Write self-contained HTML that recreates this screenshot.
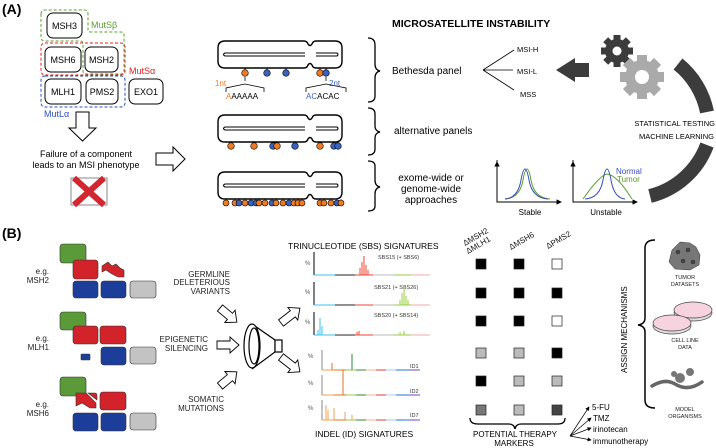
<!DOCTYPE html>
<html><head><meta charset="utf-8"><style>
html,body{margin:0;padding:0;background:#fff}
svg{display:block;font-family:"Liberation Sans",sans-serif}
</style></head><body>
<svg width="716" height="448" viewBox="0 0 716 448" xmlns="http://www.w3.org/2000/svg">
<defs>
<marker id="ah" markerWidth="6" markerHeight="6" refX="5" refY="3" orient="auto"><path d="M0,0 L6,3 L0,6z" fill="#000"/></marker>
<g id="chrom">
<path d="M225,0 H304 Q307,0 308,3 Q310,6 312,3 Q313,0 316,0 H335 Q342,0 342,7 V20 Q342,27 335,27 H316 Q313,27 312,24 Q310,21 308,24 Q307,27 304,27 H225 Q218,27 218,20 V7 Q218,0 225,0z" fill="#fff" stroke="#000" stroke-width="1.4"/>
<path d="M305,12 H225 Q222,13.5 225,15 H305 M316,12 H337 Q339,13.5 337,15 H316" fill="none" stroke="#000" stroke-width="1.1"/>
</g>
</defs>

<!-- (A) -->
<text x="2" y="14" font-size="14" font-weight="bold">(A)</text>
<g font-size="9" text-anchor="middle" fill="#000">
<rect x="47" y="13" width="35" height="25" rx="6" fill="#fff" stroke="#000"/><text x="64.5" y="29">MSH3</text>
<rect x="45" y="47" width="36" height="25" rx="6" fill="#fff" stroke="#000"/><text x="63" y="63">MSH6</text>
<rect x="85" y="47" width="33" height="25" rx="6" fill="#fff" stroke="#000"/><text x="101.5" y="63">MSH2</text>
<rect x="45" y="79" width="36" height="25" rx="6" fill="#fff" stroke="#000"/><text x="63" y="95">MLH1</text>
<rect x="86" y="79" width="32" height="25" rx="6" fill="#fff" stroke="#000"/><text x="102" y="95">PMS2</text>
<rect x="129" y="79" width="34" height="25" rx="6" fill="#fff" stroke="#000"/><text x="146" y="95">EXO1</text>
</g>
<path d="M41,14 Q41,10 45,10 H84 Q88,10 88,14 V30 Q88,32 91,32 H121 Q124,32 124,35 V71 Q124,74 121,74 H86 Q83,74 83,71 V44 Q83,41 80,41 H45 Q41,41 41,37z" fill="none" stroke="#5aa02c" stroke-width="1" stroke-dasharray="3,2"/>
<rect x="41" y="43" width="84" height="32" rx="4" fill="none" stroke="#e02020" stroke-width="1" stroke-dasharray="3,2"/>
<rect x="41" y="76" width="84" height="31" rx="4" fill="none" stroke="#2a4fc0" stroke-width="1" stroke-dasharray="3,2"/>
<text x="91" y="28" font-size="9" fill="#5aa02c">MutSβ</text>
<text x="129" y="74" font-size="9" fill="#e02020">MutSα</text>
<text x="44" y="117" font-size="9" fill="#2a4fc0">MutLα</text>
<path d="M76,112 H89 V128 H96 L82.5,141 L69,128 H76z" fill="#fff" stroke="#000" stroke-width="1"/>
<text x="86" y="157" font-size="9" text-anchor="middle">Failure of a component</text>
<text x="86" y="168" font-size="9" text-anchor="middle">leads to an MSI phenotype</text>
<path d="M156,153 H173 V147 L185,159 L173,171 V165 H156z" fill="#fff" stroke="#000" stroke-width="1"/>
<rect x="71" y="178" width="36" height="27" fill="none" stroke="#888" stroke-width="1"/>
<path d="M74,178 L104,205 M104,178 L74,205" stroke="#d22630" stroke-width="6"/>

<!-- chromosomes -->
<use href="#chrom" y="41"/>
<use href="#chrom" y="115"/>
<use href="#chrom" y="172"/>
<g stroke="#000" stroke-width="0.8">
<path d="M245,68 V73 M267,68 V73 M286,68 V73 M320,68 V73 M326,68 V73"/>
</g>
<g stroke="#000" stroke-width="0.6">
<circle cx="245" cy="73" r="3.3" fill="#f07b22"/><circle cx="267" cy="73" r="3.3" fill="#3a63c0"/><circle cx="286" cy="73" r="3.3" fill="#3a63c0"/><circle cx="320" cy="73" r="3.3" fill="#f07b22"/><circle cx="326" cy="73" r="3.3" fill="#3a63c0"/>
</g>
<path d="M245,77 V81 M226,92 V88 L245,84 L264,88 V92 M326,77 V81 M306,92 V88 L326,84 L346,88 V92" fill="none" stroke="#000" stroke-width="0.8"/>
<text x="215" y="86" font-size="8" fill="#f07b22">1nt</text>
<text x="329" y="86" font-size="8" fill="#3a63c0">2nt</text>
<text x="226" y="99" font-size="8"><tspan fill="#f07b22">A</tspan>AAAAA</text>
<text x="306" y="99" font-size="8"><tspan fill="#3a63c0">AC</tspan>ACAC</text>
<g stroke="#000" stroke-width="0.8">
<path d="M231,142 V146 M254,142 V146 M275,142 V146 M277,142 V146 M295,142 V146 M320,142 V146 M334,142 V146 M338,142 V146"/>
</g>
<g stroke="#000" stroke-width="0.6">
<circle cx="231" cy="146" r="3.3" fill="#f07b22"/><circle cx="254" cy="146" r="3.3" fill="#f07b22"/><circle cx="273" cy="146" r="3.3" fill="#3a63c0"/><circle cx="277" cy="146" r="3.3" fill="#f07b22"/><circle cx="295" cy="146" r="3.3" fill="#3a63c0"/><circle cx="320" cy="146" r="3.3" fill="#f07b22"/><circle cx="334" cy="146" r="3.3" fill="#3a63c0"/><circle cx="338" cy="146" r="3.3" fill="#3a63c0"/>
</g>
<g stroke="#000" stroke-width="0.6">
<path d="M226,199 V203 M235,199 V203 M239,199 V203 M245,199 V203 M251,199 V203 M256,199 V203 M259,199 V203 M265,199 V203 M272,199 V203 M276,199 V203 M283,199 V203 M289,199 V203 M294,199 V203 M298,199 V203 M302,199 V203 M320,199 V203 M324,199 V203 M331,199 V203 M337,199 V203 M341,199 V203"/>
<circle cx="226" cy="203" r="3" fill="#f07b22"/><circle cx="235" cy="203" r="3" fill="#f07b22"/><circle cx="239" cy="203" r="3" fill="#3a63c0"/><circle cx="245" cy="203" r="3" fill="#f07b22"/><circle cx="251" cy="203" r="3" fill="#3a63c0"/><circle cx="256" cy="203" r="3" fill="#3a63c0"/><circle cx="259" cy="203" r="3" fill="#f07b22"/><circle cx="265" cy="203" r="3" fill="#f07b22"/><circle cx="272" cy="203" r="3" fill="#3a63c0"/><circle cx="276" cy="203" r="3" fill="#f07b22"/><circle cx="283" cy="203" r="3" fill="#f07b22"/><circle cx="289" cy="203" r="3" fill="#3a63c0"/><circle cx="294" cy="203" r="3" fill="#f07b22"/><circle cx="298" cy="203" r="3" fill="#f07b22"/><circle cx="302" cy="203" r="3" fill="#f07b22"/><circle cx="320" cy="203" r="3" fill="#f07b22"/><circle cx="324" cy="203" r="3" fill="#f07b22"/><circle cx="331" cy="203" r="3" fill="#f07b22"/><circle cx="337" cy="203" r="3" fill="#3a63c0"/><circle cx="341" cy="203" r="3" fill="#f07b22"/>
</g>

<!-- braces -->
<g fill="none" stroke="#000" stroke-width="1.3">
<path d="M368,38 Q375,38 375,45 V64 Q375,70 380,71 Q375,72 375,78 V96 Q375,102 368,102"/>
<path d="M368,108 Q375,108 375,114 V126 Q375,131 380,132 Q375,133 375,138 V149 Q375,155 368,155"/>
<path d="M368,161 Q375,161 375,166 V180 Q375,186 380,187 Q375,188 375,194 V206 Q375,211 368,211"/>
</g>
<text x="392" y="27" font-size="10.5" font-weight="bold">MICROSATELLITE INSTABILITY</text>
<text x="392" y="74" font-size="10">Bethesda panel</text>
<text x="394" y="134" font-size="10">alternative panels</text>
<g font-size="10" text-anchor="middle"><text x="431" y="181">exome-wide or</text><text x="431" y="192">genome-wide</text><text x="431" y="203">approaches</text></g>
<path d="M483,70 L514,50 M483,70 L513,70 M483,70 L514,90" stroke="#000" stroke-width="0.8" fill="none"/>
<g font-size="7.5"><text x="517" y="52">MSI-H</text><text x="517" y="74">MSI-L</text><text x="520" y="97">MSS</text></g>
<path d="M589,63 H575 V58 L556,70 L575,82 V77 H589z" fill="#3c3c3c"/>
<!-- gears -->
<g fill="#3c3c3c"><circle cx="617" cy="51" r="12"/>
<g transform="translate(617,51)"><rect x="-3.5" y="-16" width="7" height="32"/><rect x="-3.5" y="-16" width="7" height="32" transform="rotate(45)"/><rect x="-3.5" y="-16" width="7" height="32" transform="rotate(90)"/><rect x="-3.5" y="-16" width="7" height="32" transform="rotate(135)"/></g></g>
<circle cx="617" cy="51" r="4.5" fill="#fff"/>
<g fill="#aaa"><circle cx="642" cy="77" r="17"/>
<g transform="translate(642,77)"><rect x="-5" y="-22" width="10" height="44"/><rect x="-5" y="-22" width="10" height="44" transform="rotate(45)"/><rect x="-5" y="-22" width="10" height="44" transform="rotate(90)"/><rect x="-5" y="-22" width="10" height="44" transform="rotate(135)"/></g></g>
<circle cx="642" cy="77" r="7" fill="#fff"/>
<path d="M678,64 A82,82 0 0 1 707,112" fill="none" stroke="#3c3c3c" stroke-width="14"/>
<path d="M707,145 A82,82 0 0 1 650,196" fill="none" stroke="#3c3c3c" stroke-width="14"/>
<g font-size="7.5" text-anchor="end"><text x="715" y="126">STATISTICAL TESTING</text><text x="714" y="139">MACHINE LEARNING</text></g>
<!-- plots -->
<g fill="none" stroke="#000" stroke-width="0.9">
<path d="M497,160 V202 H561" marker-end="url(#ah)"/><path d="M497,202 V162" marker-end="url(#ah)"/>
<path d="M573,160 V202 H637" marker-end="url(#ah)"/><path d="M573,202 V162" marker-end="url(#ah)"/>
</g>
<path d="M505,199 Q520,198 523,180 Q527,158 531,180 Q534,198 550,199" fill="none" stroke="#5aa02c" stroke-width="1"/>
<path d="M505,199 Q518,198 521,180 Q525,158 529,180 Q532,198 548,199" fill="none" stroke="#3a4fc0" stroke-width="1"/>
<path d="M583,199 Q600,175 607,174 Q617,175 632,199" fill="none" stroke="#5aa02c" stroke-width="1"/>
<path d="M585,199 Q600,198 603,180 Q607,158 611,180 Q614,198 625,199" fill="none" stroke="#3a4fc0" stroke-width="1"/>
<text x="616" y="174" font-size="8" fill="#3a4fc0">Normal</text>
<text x="617" y="182" font-size="8" fill="#5aa02c">Tumor</text>
<text x="530" y="215" font-size="8" text-anchor="middle">Stable</text>
<text x="606" y="215" font-size="8" text-anchor="middle">Unstable</text>

<!-- (B) -->
<text x="2" y="238" font-size="14" font-weight="bold">(B)</text>
<g stroke="#333" stroke-width="0.6">
<rect x="60" y="244" width="26" height="19" rx="3" fill="#5b9a38"/>
<rect x="73" y="260" width="25" height="19" rx="3" fill="#d2232a"/>
<path d="M102,266 L108,262 L112,266 L116,264 L120,268 L124,270 V277 H118 L112,274 L106,270 L102,272z" fill="#d2232a"/>
<rect x="73" y="281" width="25" height="17" rx="3" fill="#1d3d9b"/><rect x="101" y="281" width="25" height="17" rx="3" fill="#1d3d9b"/><rect x="130" y="281" width="26" height="17" rx="3" fill="#c3c3c3"/>
<rect x="60" y="312" width="26" height="18" rx="3" fill="#5b9a38"/>
<rect x="73" y="326" width="25" height="18" rx="3" fill="#d2232a"/><rect x="100" y="326" width="26" height="18" rx="3" fill="#d2232a"/>
<rect x="81" y="354" width="9" height="6" rx="1" fill="#1d3d9b"/>
<rect x="101" y="347" width="25" height="18" rx="3" fill="#1d3d9b"/><rect x="130" y="347" width="26" height="17" rx="3" fill="#c3c3c3"/>
<rect x="60" y="377" width="26" height="19" rx="3" fill="#5b9a38"/>
<path d="M76,393 H86 L96,403 V408 H90 L82,403 L76,406z" fill="#d2232a"/>
<path d="M88,393 H95 Q97,393 97,396 V400z" fill="#d2232a"/>
<rect x="100" y="392" width="26" height="18" rx="3" fill="#d2232a"/>
<rect x="73" y="413" width="25" height="18" rx="3" fill="#1d3d9b"/><rect x="101" y="413" width="25" height="18" rx="3" fill="#1d3d9b"/><rect x="130" y="413" width="26" height="17" rx="3" fill="#c3c3c3"/>
</g>
<g font-size="8" text-anchor="end" fill="#222">
<text x="49" y="274">e.g.</text><text x="49" y="283">MSH2</text>
<text x="49" y="341">e.g.</text><text x="49" y="350">MLH1</text>
<text x="49" y="407">e.g.</text><text x="49" y="416">MSH6</text>
<text x="230" y="277">GERMLINE</text><text x="230" y="285">DELETERIOUS</text><text x="230" y="294">VARIANTS</text>
<text x="208" y="342">EPIGENETIC</text><text x="208" y="351">SILENCING</text>
<text x="224" y="402">SOMATIC</text><text x="224" y="411">MUTATIONS</text>
</g>
<!-- outline arrows -->
<g fill="#fff" stroke="#000" stroke-width="0.9">
<path d="M0,-4 H13 V-8 L22,0 L13,8 V4 H0z" transform="translate(220,308) rotate(40)"/>
<path d="M0,-4 H13 V-8 L22,0 L13,8 V4 H0z" transform="translate(217,345)"/>
<path d="M0,-4 H13 V-8 L22,0 L13,8 V4 H0z" transform="translate(220,386) rotate(-40)"/>
<path d="M0,-4 H15 V-8 L24,0 L15,8 V4 H0z" transform="translate(281,323) rotate(-38)"/>
<path d="M0,-4 H15 V-8 L24,0 L15,8 V4 H0z" transform="translate(281,357) rotate(38)"/>
</g>
<!-- funnel -->
<g fill="#fff" stroke="#000" stroke-width="1.2">
<path d="M252,324 L275,340 V352 L252,369"/>
<rect x="275" y="340" width="7" height="12"/>
<ellipse cx="252" cy="346" rx="8" ry="22"/>
<ellipse cx="254" cy="346" rx="5" ry="18"/>
</g>
<!-- signatures -->
<text x="288" y="249" font-size="8.5">TRINUCLEOTIDE (SBS) SIGNATURES</text>
<g font-size="6" fill="#555">
<text x="305" y="265">%</text><text x="305" y="294">%</text><text x="305" y="324">%</text>
<text x="308" y="358">%</text><text x="308" y="385">%</text><text x="308" y="410">%</text>
</g>
<g font-size="5.5" fill="#333">
<text x="378" y="259">SBS15 (+ SBS6)</text><text x="374" y="289">SBS21 (+ SBS26)</text><text x="374" y="317">SBS20 (+ SBS14)</text>
<text x="410" y="368">ID1</text><text x="410" y="393">ID2</text><text x="410" y="417">ID7</text>
</g>
<g stroke-width="1">
<g id="sbs">
<path d="M314,252 V275" stroke="#000"/>
<path d="M314,275 H335" stroke="#3cc3ee"/><path d="M335,275 H355" stroke="#222"/><path d="M355,275 H373" stroke="#e43"/><path d="M373,275 H393" stroke="#bbb"/><path d="M393,275 H411" stroke="#9c4"/><path d="M411,275 H430" stroke="#f0a8a8"/>
</g>
<use href="#sbs" y="30"/><use href="#sbs" y="60"/>
<path d="M360,275 V268 M362,275 V262 M364,275 V256 M366,275 V265 M368,275 V270" stroke="#e43"/>
<path d="M400,305 V300 M402,305 V293 M404,305 V285 M406,305 V296 M408,305 V300" stroke="#9c4"/>
<path d="M318,335 V330 M320,335 V318 M322,335 V326" stroke="#3cc3ee"/>
<path d="M357,335 V332 M359,335 V331" stroke="#e43"/><path d="M400,335 V332 M404,335 V331" stroke="#9c4"/>
<g id="idp">
<path d="M322,350 V370" stroke="#888"/>
<path d="M322,370 H334" stroke="#f0a050"/><path d="M334,370 H346" stroke="#e07020"/><path d="M346,370 H356" stroke="#9c4"/><path d="M356,370 H366" stroke="#2a8a3a"/><path d="M366,370 H376" stroke="#f4b0a0"/><path d="M376,370 H386" stroke="#e33"/><path d="M386,370 H396" stroke="#9cf"/><path d="M396,370 H410" stroke="#27c"/><path d="M410,370 H420" stroke="#74b"/>
</g>
<use href="#idp" y="25"/><use href="#idp" y="50"/>
<path d="M352,370 V354" stroke="#2a8a3a"/><path d="M332,370 V363" stroke="#e07020"/>
<path d="M343,395 V370" stroke="#e07020"/>
<path d="M326,420 V405 M328,420 V410 M334,420 V408 M345,420 V412 M352,420 V415" stroke="#f0a050"/>
</g>
<text x="315" y="437" font-size="8.5">INDEL (ID) SIGNATURES</text>
<!-- matrix -->
<g font-size="8" fill="#111">
<text transform="translate(465,246) rotate(-30)">ΔMSH2</text>
<text transform="translate(468,254) rotate(-30)">ΔMLH1</text>
<text transform="translate(511,250) rotate(-30)">ΔMSH6</text>
<text transform="translate(548,249) rotate(-30)">ΔPMS2</text>
</g>
<g stroke="#222" stroke-width="0.7">
<rect x="476" y="259" width="10" height="10" fill="#000"/><rect x="514" y="259" width="10" height="10" fill="#000"/><rect x="552" y="259" width="10" height="10" fill="#fff"/>
<rect x="476" y="288" width="10" height="10" fill="#000"/><rect x="514" y="288" width="10" height="10" fill="#000"/><rect x="552" y="288" width="10" height="10" fill="#000"/>
<rect x="476" y="316" width="10" height="10" fill="#000"/><rect x="514" y="316" width="10" height="10" fill="#000"/><rect x="552" y="316" width="10" height="10" fill="#fff"/>
<rect x="476" y="348" width="10" height="10" fill="#bbb"/><rect x="514" y="348" width="10" height="10" fill="#bbb"/><rect x="552" y="348" width="10" height="10" fill="#000"/>
<rect x="476" y="376" width="10" height="10" fill="#000"/><rect x="514" y="376" width="10" height="10" fill="#bbb"/><rect x="552" y="376" width="10" height="10" fill="#bbb"/>
<rect x="476" y="405" width="10" height="10" fill="#777"/><rect x="514" y="405" width="10" height="10" fill="#bbb"/><rect x="552" y="405" width="10" height="10" fill="#444"/>
</g>
<path d="M470,418 Q470,424 478,424 H509 Q514,424 515,429 Q516,424 521,424 H558 Q565,424 565,418" fill="none" stroke="#000" stroke-width="1.3"/>
<g font-size="8" text-anchor="middle"><text x="515" y="437">POTENTIAL THERAPY</text><text x="514" y="446">MARKERS</text></g>
<g stroke="#000" stroke-width="0.7" fill="none">
<path d="M570,436 L589,407" marker-end="url(#ah)"/><path d="M570,436 L591,418" marker-end="url(#ah)"/><path d="M570,436 L591,428" marker-end="url(#ah)"/><path d="M570,436 L591,440" marker-end="url(#ah)"/>
</g>
<g font-size="8"><text x="592" y="410">5-FU</text><text x="593" y="421">TMZ</text><text x="593" y="432">irinotecan</text><text x="593" y="444">immunotherapy</text></g>
<!-- right -->
<path d="M655,240 Q645,240 645,248 V318 Q645,324 638,325 Q645,326 645,332 V400 Q645,408 655,408" fill="none" stroke="#000" stroke-width="1.5"/>
<text transform="translate(627,373) rotate(-90)" font-size="8">ASSIGN MECHANISMS</text>
<g fill="#777" stroke="#333" stroke-width="0.5">
<path d="M672,250 L680,242 L690,243 L696,247 L700,255 L699,265 L690,270 L675,269 L669,262z"/>
<circle cx="678" cy="252" r="2" fill="#444"/><circle cx="688" cy="250" r="2" fill="#444"/><circle cx="683" cy="261" r="2" fill="#444"/><circle cx="693" cy="262" r="2" fill="#444"/>
</g>
<g font-size="5.5" text-anchor="middle" fill="#222"><text x="685" y="279">TUMOR</text><text x="685" y="286">DATASETS</text>
<text x="685" y="342">CELL LINE</text><text x="685" y="349">DATA</text>
<text x="685" y="411">MODEL</text><text x="685" y="418">ORGANISMS</text></g>
<g stroke="#444" stroke-width="0.7">
<ellipse cx="693" cy="313" rx="19" ry="8" fill="#ddd"/><ellipse cx="693" cy="310" rx="19" ry="8" fill="#f6d3de"/>
<ellipse cx="672" cy="326" rx="19" ry="8" fill="#ddd"/><ellipse cx="672" cy="323" rx="19" ry="8" fill="#f6d3de"/>
</g>
<path d="M652,386 Q665,378 675,384 Q688,392 702,382" fill="none" stroke="#666" stroke-width="3.5" stroke-linecap="round"/>
<g fill="#777"><circle cx="680" cy="378" r="5"/><circle cx="690" cy="372" r="4"/><circle cx="674" cy="374" r="3"/></g>
</svg>
</body></html>
